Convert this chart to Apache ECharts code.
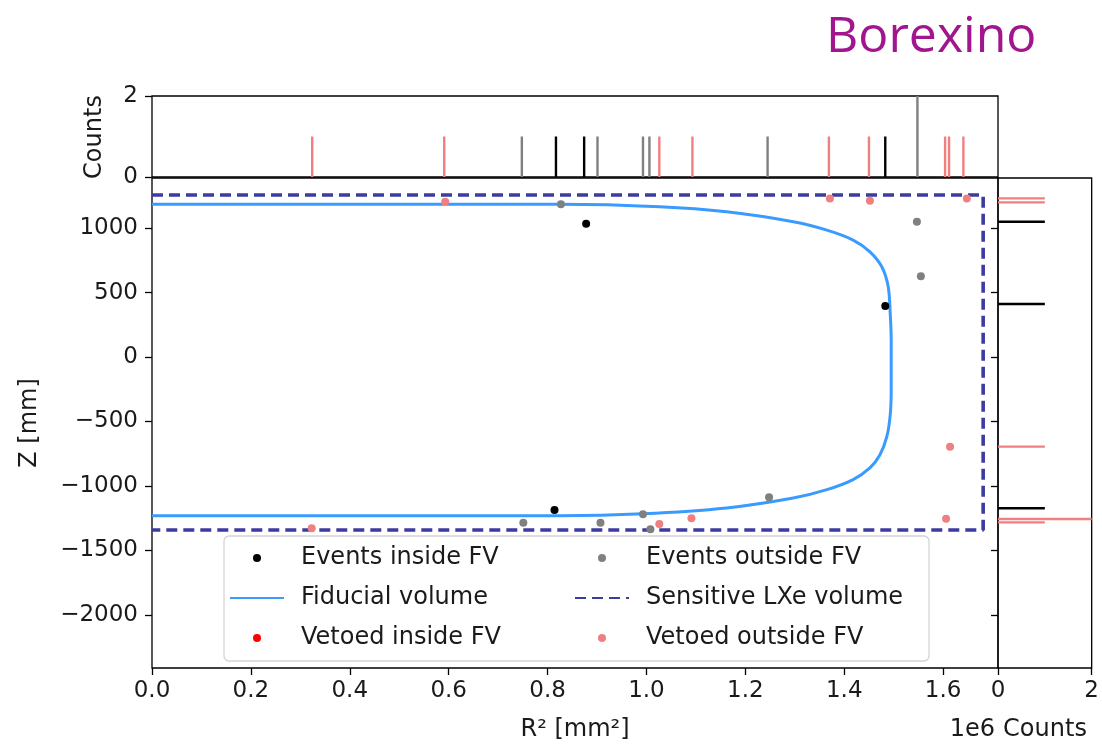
<!DOCTYPE html>
<html>
<head>
<meta charset="utf-8">
<script src="https://cdn.jsdelivr.net/npm/echarts@6/dist/echarts.min.js"></script>
<style>
  html, body { margin: 0; padding: 0; background: #fff; }
  #chart { width: 1102px; height: 744px; }
</style>
</head>
<body>
<div id="chart"></div>
<script>
// Event positions: [R^2 in mm^2, Z in mm]
const eventsInsideFV = [[878000, 1033], [1483000, 395], [814000, -1186]];
const eventsOutsideFV = [[827000, 1184], [1547000, 1049], [1555000, 626], [751000, -1284],
  [907000, -1284], [993000, -1219], [1008000, -1336], [1248000, -1088]];
const vetoedInsideFV = [];
const vetoedOutsideFV = [[593000, 1204], [1371000, 1230], [1452000, 1212], [1648000, 1230],
  [1614000, -695], [1606000, -1253], [323000, -1328], [1026000, -1295], [1091000, -1250]];

// Fiducial volume boundary, traced clockwise from the top-left corner
const fiducialVolume = [[0, 1184], [825000, 1184], [1027000, 1165], [1162000, 1126],
  [1297000, 1049], [1365000, 984], [1418000, 907], [1452000, 816], [1476000, 700],
  [1489000, 545], [1493000, 339], [1495000, 132], [1495000, 0], [1495000, -250],
  [1493000, -450], [1486000, -620], [1472000, -760], [1452000, -860], [1418000, -950],
  [1365000, -1028], [1297000, -1093], [1162000, -1170], [993000, -1215], [825000, -1230],
  [0, -1230]];
// Sensitive LXe volume outline
const sensitiveVolume = [[0, 1256], [1681000, 1256], [1681000, -1341], [0, -1341]];

// Marginal histograms: R^2 histogram [R^2, counts], Z histogram [Z, counts]
const histRInside = [[817000, 1], [874000, 1], [1483000, 1]];
const histROutside = [[748000, 1], [901000, 1], [993000, 1], [1006000, 1], [1245000, 1], [1548000, 2]];
const histRVetoed = [[324000, 1], [591000, 1], [1026000, 1], [1093000, 1], [1369000, 1],
  [1450000, 1], [1604000, 1], [1612000, 1], [1641000, 1]];
const histZInside = [[1049, 1], [411, 1], [-1173, 1]];
const histZVetoed = [[1230, 1], [1199, 1], [-695, 1], [-1256, 2], [-1282, 1]];

const xTicks = [0, 200000, 400000, 600000, 800000, 1000000, 1200000, 1400000, 1600000];
const zTicks = [-2000, -1500, -1000, -500, 0, 500, 1000];
const countTicks = [0, 2];

const R2_MAX = 1711000, Z_MIN = -2411, Z_MAX = 1388;
const FONT = 'DejaVu Sans';
const TXT = '#1a1a1a';

const chart = echarts.init(document.getElementById('chart'), null, { renderer: 'canvas' });

function vHist(color) {
  return function (params, api) {
    const a = api.coord([api.value(0), 0]);
    const b = api.coord([api.value(0), api.value(1)]);
    return { type: 'line', shape: { x1: a[0], y1: a[1], x2: b[0], y2: b[1] },
      style: { stroke: color, lineWidth: 2.4 } };
  };
}
function hHist(color) {
  return function (params, api) {
    const a = api.coord([0, api.value(1)]);
    const b = api.coord([api.value(0), api.value(1)]);
    return { type: 'line', shape: { x1: a[0], y1: a[1], x2: b[0], y2: b[1] },
      style: { stroke: color, lineWidth: 2.4 } };
  };
}
const swap = arr => arr.map(d => [d[1], d[0]]);

const gridStyle = { show: true, borderColor: '#000', borderWidth: 1.3, backgroundColor: 'transparent' };
const tickStyle = { lineStyle: { color: '#000', width: 1.3 }, length: 7 };
const labelStyle = { fontFamily: FONT, fontSize: 23, color: TXT };
const noLine = { show: false, onZero: false };

const option = {
  animation: false,
  backgroundColor: '#fff',
  grid: [
    Object.assign({ left: 152, top: 178, width: 846, height: 490 }, gridStyle),
    Object.assign({ left: 152, top: 96, width: 846, height: 81 }, gridStyle),
    Object.assign({ left: 998, top: 178, width: 95, height: 490 }, gridStyle)
  ],
  xAxis: [
    { type: 'value', gridIndex: 0, min: 0, max: R2_MAX, splitLine: { show: false },
      axisLine: noLine,
      axisTick: Object.assign({ customValues: xTicks }, tickStyle),
      axisLabel: Object.assign({ customValues: xTicks, margin: 12,
        formatter: v => (v / 1e6).toFixed(1) }, labelStyle) },
    { type: 'value', gridIndex: 1, min: 0, max: R2_MAX, splitLine: { show: false },
      axisLine: noLine, axisTick: { show: false }, axisLabel: { show: false } },
    { type: 'value', gridIndex: 2, min: 0, max: 2, splitLine: { show: false },
      axisLine: noLine,
      axisTick: Object.assign({ customValues: countTicks }, tickStyle),
      axisLabel: Object.assign({ customValues: countTicks, margin: 12 }, labelStyle) }
  ],
  yAxis: [
    { type: 'value', gridIndex: 0, min: Z_MIN, max: Z_MAX, splitLine: { show: false },
      axisLine: noLine,
      axisTick: Object.assign({ customValues: zTicks }, tickStyle),
      axisLabel: Object.assign({ customValues: zTicks, margin: 14,
        formatter: v => (v < 0 ? '\u2212' + Math.abs(v) : String(v)) }, labelStyle) },
    { type: 'value', gridIndex: 1, min: 0, max: 2, splitLine: { show: false },
      axisLine: noLine,
      axisTick: Object.assign({ customValues: countTicks }, tickStyle),
      axisLabel: Object.assign({ customValues: countTicks, margin: 14 }, labelStyle) },
    { type: 'value', gridIndex: 2, min: Z_MIN, max: Z_MAX, splitLine: { show: false },
      axisLine: noLine,
      axisTick: Object.assign({ customValues: zTicks }, tickStyle),
      axisLabel: { show: false } }
  ],
  legend: [
    { orient: 'vertical', left: 229, top: 546, itemWidth: 54, itemHeight: 8, itemGap: 16,
      padding: 0, selectedMode: false,
      textStyle: { fontFamily: FONT, fontSize: 24, color: TXT, padding: [0, 0, 0, 12] },
      data: [
        { name: 'Events inside FV', icon: 'circle' },
        { name: 'Fiducial volume', itemStyle: { opacity: 0 } },
        { name: 'Vetoed inside FV', icon: 'circle' }
      ] },
    { orient: 'vertical', left: 574, top: 546, itemWidth: 54, itemHeight: 8, itemGap: 16,
      padding: 0, selectedMode: false,
      textStyle: { fontFamily: FONT, fontSize: 24, color: TXT, padding: [0, 0, 0, 12] },
      data: [
        { name: 'Events outside FV', icon: 'circle' },
        { name: 'Sensitive LXe volume', itemStyle: { opacity: 0 } },
        { name: 'Vetoed outside FV', icon: 'circle' }
      ] }
  ],
  graphic: [
    { type: 'rect', z: 3, shape: { x: 224, y: 536, width: 705, height: 125, r: 5 },
      style: { fill: 'rgba(255,255,255,0.85)', stroke: '#d4d4d4', lineWidth: 1.3 } },
    { type: 'text', x: 826, y: 38, style: { text: 'Borexino', fill: '#a1168f',
      font: '50px "Open Sans"', verticalAlign: 'middle', align: 'left' } },
    { type: 'text', x: 30, y: 423, rotation: Math.PI / 2,
      style: { text: 'Z [mm]', font: '24px "DejaVu Sans"', fill: TXT, align: 'center', verticalAlign: 'middle' } },
    { type: 'text', x: 95, y: 137, rotation: Math.PI / 2,
      style: { text: 'Counts', font: '24px "DejaVu Sans"', fill: TXT, align: 'center', verticalAlign: 'middle' } },
    { type: 'text', x: 575, y: 730,
      style: { text: 'R\u00b2 [mm\u00b2]', font: '24px "DejaVu Sans"', fill: TXT, align: 'center', verticalAlign: 'middle' } },
    { type: 'text', x: 1045, y: 730,
      style: { text: 'Counts', font: '24px "DejaVu Sans"', fill: TXT, align: 'center', verticalAlign: 'middle' } },
    { type: 'text', x: 995, y: 730,
      style: { text: '1e6', font: '24px "DejaVu Sans"', fill: TXT, align: 'right', verticalAlign: 'middle' } }
  ],
  series: [
    { name: 'Fiducial volume', type: 'line', xAxisIndex: 0, yAxisIndex: 0, data: fiducialVolume,
      showSymbol: false, symbol: 'none', smooth: 0.3, z: 2,
      lineStyle: { color: '#3a9bff', width: 3 }, itemStyle: { color: '#3a9bff' } },
    { name: 'Sensitive LXe volume', type: 'line', xAxisIndex: 0, yAxisIndex: 0, data: sensitiveVolume,
      showSymbol: false, symbol: 'none', z: 2,
      lineStyle: { color: '#3c3c9e', width: 3.6, type: [11, 6] }, itemStyle: { color: '#3c3c9e' } },
    { name: 'Events inside FV', type: 'scatter', xAxisIndex: 0, yAxisIndex: 0, data: eventsInsideFV,
      symbolSize: 8, itemStyle: { color: '#000', opacity: 1 }, z: 4 },
    { name: 'Events outside FV', type: 'scatter', xAxisIndex: 0, yAxisIndex: 0, data: eventsOutsideFV,
      symbolSize: 8, itemStyle: { color: '#808080', opacity: 1 }, z: 4 },
    { name: 'Vetoed inside FV', type: 'scatter', xAxisIndex: 0, yAxisIndex: 0, data: vetoedInsideFV,
      symbolSize: 8, itemStyle: { color: '#ff0000', opacity: 1 }, z: 4 },
    { name: 'Vetoed outside FV', type: 'scatter', xAxisIndex: 0, yAxisIndex: 0, data: vetoedOutsideFV,
      symbolSize: 8, itemStyle: { color: '#f08080', opacity: 1 }, z: 4 },

    { type: 'custom', xAxisIndex: 1, yAxisIndex: 1, data: histRVetoed, renderItem: vHist('#f08080'), silent: true },
    { type: 'custom', xAxisIndex: 1, yAxisIndex: 1, data: histROutside, renderItem: vHist('#808080'), silent: true },
    { type: 'custom', xAxisIndex: 1, yAxisIndex: 1, data: histRInside, renderItem: vHist('#000000'), silent: true },
    { type: 'custom', xAxisIndex: 2, yAxisIndex: 2, data: swap(histZVetoed), renderItem: hHist('#f08080'), silent: true },
    { type: 'custom', xAxisIndex: 2, yAxisIndex: 2, data: swap(histZInside), renderItem: hHist('#000000'), silent: true }
  ]
};
chart.setOption(option);
</script>
</body>
</html>
